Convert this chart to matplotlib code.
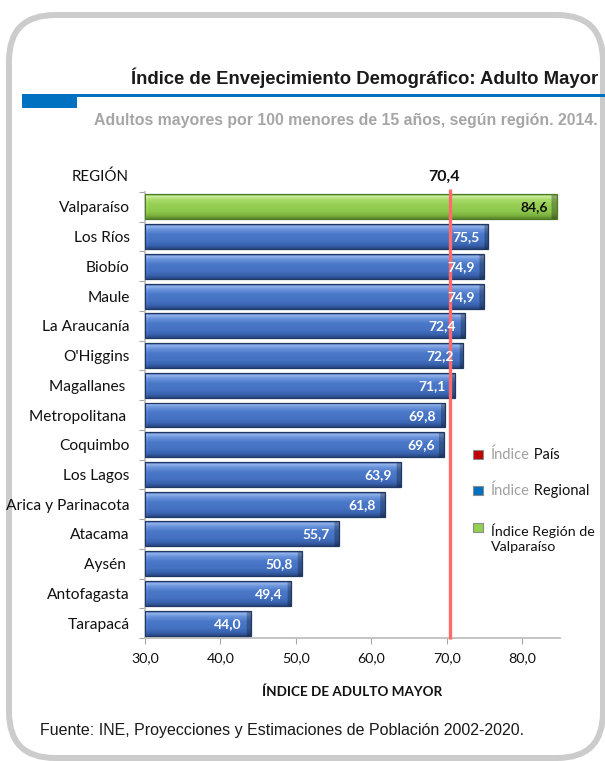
import numpy as np
import matplotlib
matplotlib.use("Agg")
import matplotlib.pyplot as plt
from matplotlib.patches import FancyBboxPatch, Rectangle
from matplotlib.colors import to_rgb

# ---------------- data ----------------
regions = ["Valparaíso", "Los Ríos", "Biobío", "Maule", "La Araucanía", "O'Higgins",
           "Magallanes ", "Metropolitana ", "Coquimbo", "Los Lagos", "Arica y Parinacota",
           "Atacama", "Aysén ", "Antofagasta", "Tarapacá"]
values = [84.6, 75.5, 74.9, 74.9, 72.4, 72.2, 71.1, 69.8, 69.6, 63.9, 61.8, 55.7, 50.8, 49.4, 44.0]
highlight = "Valparaíso"
country_index = 70.4
x_ticks = [30, 40, 50, 60, 70, 80]
x_tick_labels = ["30,0", "40,0", "50,0", "60,0", "70,0", "80,0"]

title = "Índice de Envejecimiento Demográfico: Adulto Mayor"
subtitle = "Adultos mayores por 100 menores de 15 años, según región. 2014."
source = "Fuente: INE, Proyecciones y Estimaciones de Población 2002-2020."

W, H = 605, 761
fig = plt.figure(figsize=(W / 100, H / 100), dpi=100)
fig.patch.set_facecolor("white")

CAL = ["Lato", "DejaVu Sans"]
ARIAL = ["Liberation Sans", "DejaVu Sans"]

# background axes in pixel coordinates
bg = fig.add_axes([0, 0, 1, 1], zorder=0)
bg.set_xlim(0, W)
bg.set_ylim(H, 0)
bg.axis("off")

frame = FancyBboxPatch((9, 15), 594, 743, boxstyle="round,pad=0,rounding_size=46",
                       fill=False, edgecolor="#cccccc", linewidth=6 * 0.72)
bg.add_patch(frame)
bg.plot([22, 605], [95.3, 95.3], color="#0070c0", lw=3 * 0.72, solid_capstyle="butt")
bg.add_patch(Rectangle((22, 94), 55, 13.5, color="#0070c0", lw=0))

bg.text(598, 78, title, ha="right", va="center", fontsize=13.3, fontweight="bold",
        family=ARIAL, color="#1a1a1a")
bg.text(598, 120, subtitle, ha="right", va="center", fontsize=11.4, fontweight="bold",
        family=ARIAL, color="#a6a6a6")
bg.text(40, 730, source, ha="left", va="center", fontsize=11.5, family=ARIAL, color="#1a1a1a")

bg.text(129, 177, "REGIÓN", ha="right", va="center", fontsize=10.8, family=CAL, color="#111111")
bg.text(444, 177, f"{country_index:.1f}".replace(".", ","), ha="center", va="center",
        fontsize=11.5, fontweight="bold", family=CAL, color="#111111")
bg.text(352, 692, "ÍNDICE DE ADULTO MAYOR", ha="center", va="center", fontsize=9.7,
        fontweight="bold", family=CAL, color="#111111")

# legend (manual)
leg_items = [("#c00000", "Índice", " País", 455),
             ("#0070c0", "Índice", " Regional", 491)]
for col, w1, w2, yy in leg_items:
    bg.add_patch(Rectangle((473, yy - 5), 10, 9, facecolor=col, edgecolor="#8c8c8c", lw=0.8))
    t = bg.text(491, yy, w1, ha="left", va="center", fontsize=10.5, family=CAL, color="#a0a0a0")
    bg.annotate(w2, xy=(1, 0), xycoords=t, ha="left", va="bottom", fontsize=10.5,
                family=CAL, color="#111111")
bg.add_patch(Rectangle((473, 523), 10, 9, facecolor="#92d050", edgecolor="#8c8c8c", lw=0.8))
bg.text(491, 538, "Índice Región de\nValparaíso", ha="left", va="center", fontsize=10.3,
        family=CAL, color="#111111", linespacing=1.35)

# ---------------- main axes ----------------
ax = fig.add_axes([145 / W, 1 - 638 / H, (560 - 145) / W, (638 - 192) / H], zorder=2)
ax.set_facecolor("none")
base = 30
n = len(regions)
ypos = np.arange(n)
h = 0.84

stops_t = [0.0, 0.08, 0.2, 0.4, 0.7, 0.87, 1.0]
blue_stops = ["#3a62ab", "#95b4ec", "#6c94dc", "#4b79c9", "#4470c0", "#3861ad", "#284781"]
green_stops = ["#78aa44", "#cdf09e", "#acdc70", "#98d056", "#8dc84b", "#7bb03e", "#5a872b"]


def bar_img(stops, length, ny=40, nx=300, bevel=0.55):
    cols = np.array([to_rgb(c) for c in stops])
    t = np.linspace(0, 1, ny)
    prof = np.stack([np.interp(t, stops_t, cols[:, k]) for k in range(3)], axis=1)
    img = np.repeat(prof[:, None, :], nx, axis=1)
    xs = np.linspace(0, length, nx)
    right = xs > length - bevel
    left = xs < bevel * 0.6
    img[:, right, :] *= 0.72
    img[:, left, :] = np.clip(img[:, left, :] * 1.08, 0, 1)
    return img


for i, (r, v) in enumerate(zip(regions, values)):
    is_hl = r.strip() == highlight
    stops = green_stops if is_hl else blue_stops
    edge = "#4e7a27" if is_hl else "#1f3864"
    bars = ax.barh(i, v - base, left=base, height=h, color="none", edgecolor=edge,
                   linewidth=0.9, zorder=3)
    patch = bars[0]
    im = ax.imshow(bar_img(stops, v - base), extent=(base, v, i + h / 2, i - h / 2),
                   aspect="auto", interpolation="bilinear", zorder=2, origin="upper")
    im.set_clip_path(patch)
    lab = f"{v:.1f}".replace(".", ",")
    ax.text(v - 1.2, i + 0.02, lab, ha="right", va="center", fontsize=10, fontweight="bold",
            family=CAL, color="#111111" if is_hl else "white", zorder=6)

ax.plot([country_index, country_index], [-0.6, n - 0.45], color="#ff6b6b", lw=2.4,
        zorder=5, clip_on=False, solid_capstyle="butt")

ax.set_xlim(30, 85)
ax.set_ylim(n - 0.5, -0.5)
ax.set_yticks(ypos)
ax.set_yticklabels(regions, fontsize=11.2, family=CAL, color="#111111")
ax.tick_params(axis="y", which="major", length=0, pad=11)
ax.set_yticks(np.arange(-0.5, n, 1), minor=True)
ax.tick_params(axis="y", which="minor", length=4, width=0.8, color="#a6a6a6", direction="out")
ax.set_xticks(x_ticks)
ax.set_xticklabels(x_tick_labels, fontsize=10.3, family=CAL, color="#111111")
ax.tick_params(axis="x", length=4, width=0.8, color="#a6a6a6", direction="out", pad=6)
for s in ["top", "right"]:
    ax.spines[s].set_visible(False)
for s in ["left", "bottom"]:
    ax.spines[s].set_color("#bfbfbf")
    ax.spines[s].set_linewidth(1.3)

fig.savefig("out.png", dpi=100, facecolor="white")
